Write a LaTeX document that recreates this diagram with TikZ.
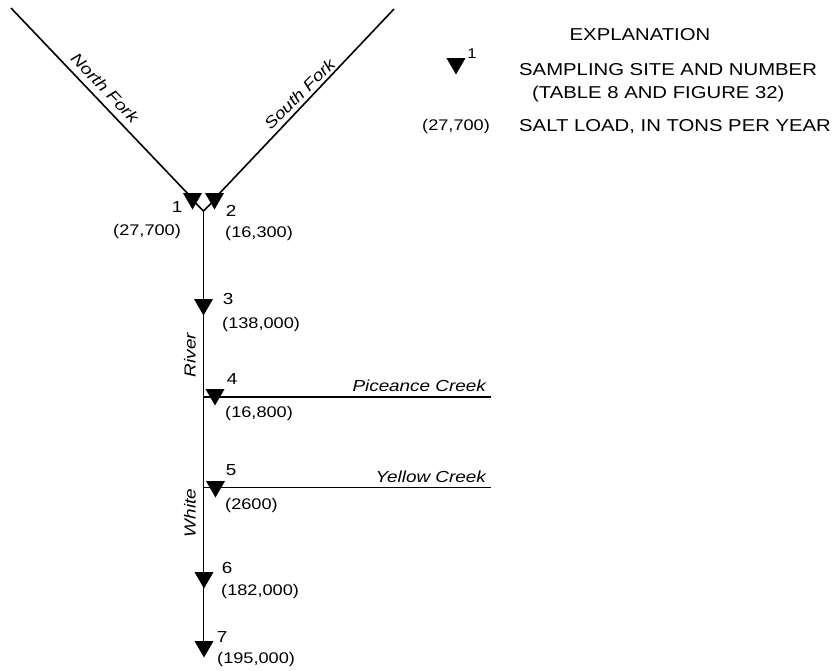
\documentclass[tikz,border=0pt]{standalone}
\usepackage{fontspec}
\setmainfont{Liberation Sans}[FakeStretch=1.18]
\usetikzlibrary{shapes.geometric}
\tikzset{
  site/.style={regular polygon,regular polygon sides=3,shape border rotate=180,fill=black,draw=none,inner sep=0pt,minimum size=#1},
  site/.default=22pt,
  river/.style={draw=black,line width=1.6pt},
  loadlab/.style={font=\fontsize{15.4}{17}\selectfont,inner sep=0pt,anchor=base west},
  sitenum/.style={font=\fontsize{16}{18}\selectfont,inner sep=0pt},
  streamname/.style={font=\fontsize{16}{18}\itshape\selectfont,inner sep=0pt},
  keytext/.style={font=\fontsize{17.2}{19}\selectfont,inner sep=0pt,anchor=base west}
}
\begin{document}
\begin{tikzpicture}[x=1pt,y=-1pt]
\useasboundingbox (0,0) rectangle (838,670);
% rivers
\coordinate (nf) at (11,8);
\coordinate (sf) at (394,9);
\coordinate (conf) at (203.5,211);
\coordinate (nfe) at (190,196);
\coordinate (sfe) at (217,196);
\coordinate (nfv) at (195,202.5);
\coordinate (sfv) at (212,202.5);
\coordinate (end) at (203.5,655);
\coordinate (pj) at (203.5,397);
\coordinate (yj) at (203.5,487.5);
\coordinate (pe) at (491,397);
\coordinate (ye) at (491,487.5);
\draw[river] (nf) -- (nfe);
\draw[river] (sf) -- (sfe);
\draw[river] (nfv) -- (conf) -- (sfv);
\draw[river] (conf) -- (end);
\draw[river] (pj) -- (pe);
\draw[river] (yj) -- (ye);
% sites
\node[site] (s1) at (192.5,198.5) {};
\node[site] (s2) at (214.5,198.5) {};
\node[site] (s3) at (203.5,304.5) {};
\node[site] (s4) at (215,394.5) {};
\node[site] (s5) at (215.5,486.5) {};
\node[site] (s6) at (204,577.5) {};
\node[site] (s7) at (204,646.5) {};
% numbers
\node[sitenum] (n1) at (177,207) {1};
\node[sitenum] (n2) at (231,211) {2};
\node[sitenum] (n3) at (228,299) {3};
\node[sitenum] (n4) at (232,379) {4};
\node[sitenum] (n5) at (231,470) {5};
\node[sitenum] (n6) at (227,568) {6};
\node[sitenum] (n7) at (222,637) {7};
% loads
\node[loadlab] (l1) at (113,235) {(27,700)};
\node[loadlab] (l2) at (225,237) {(16,300)};
\node[loadlab] (l3) at (222,328) {(138,000)};
\node[loadlab] (l4) at (225,417) {(16,800)};
\node[loadlab] (l5) at (225,509) {(2600)};
\node[loadlab] (l6) at (221,595) {(182,000)};
\node[loadlab] (l7) at (217,663) {(195,000)};
% stream names
\node[streamname,rotate=-46] (tnf) at (105,88) {North Fork};
\node[streamname,rotate=45] (tsf) at (299.5,94) {South Fork};
\node[streamname,rotate=90] (triv) at (190,355) {River};
\node[streamname,rotate=90] (twh) at (190,513) {White};
\node[streamname,anchor=base east] (tpc) at (486,391) {Piceance Creek};
\node[streamname,anchor=base east] (tyc) at (486,482) {Yellow Creek};
% explanation
\node[keytext,anchor=base] (ke) at (640,40) {EXPLANATION};
\node[site] (ks) at (456,63.5) {};
\node[font=\fontsize{14}{16}\selectfont,inner sep=0pt] (kn) at (472,54) {1};
\node[keytext] (k1) at (519,75) {SAMPLING SITE AND NUMBER};
\node[keytext] (k2) at (532,98) {(TABLE 8 AND FIGURE 32)};
\node[loadlab] (k3) at (422,130) {(27,700)};
\node[keytext] (k4) at (519,131) {SALT LOAD, IN TONS PER YEAR};
\end{tikzpicture}
\end{document}
